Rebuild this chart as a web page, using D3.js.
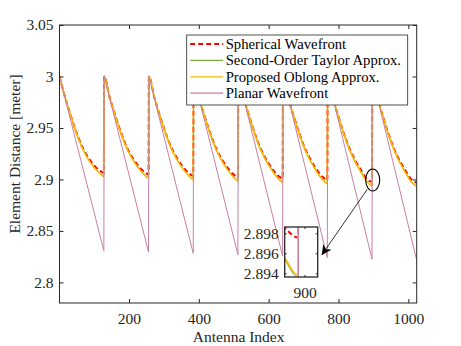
<!DOCTYPE html>
<html>
<head>
<meta charset="utf-8">
<script src="https://cdn.jsdelivr.net/npm/d3@7"></script>
<style>
  body { margin: 0; background: #fff; }
  svg { display: block; }
  svg text { font-family: "Liberation Serif", "Times New Roman", Times, "DejaVu Serif", serif !important; }
</style>
</head>
<body>
<div id="chart"></div>
<script>
// first antenna index of each 128-element sub-array, and where inside a sub-array we sampled
const toothStarts = [1, 129, 257, 385, 513, 641, 769, 897];
const sampleOffsets = [0, 16, 32, 48, 64, 80, 96, 112, 120, 127];

// element distance [m], one row per sub-array
const spherical = [
  [3.000, 2.9796, 2.9623, 2.9461, 2.9325, 2.9224, 2.9149, 2.9094, 2.9075, 2.9064],
  [3.000, 2.9793, 2.9618, 2.9456, 2.9318, 2.9216, 2.9139, 2.9081, 2.9061, 2.9048],
  [3.000, 2.9791, 2.9613, 2.9451, 2.9312, 2.9209, 2.9129, 2.9068, 2.9047, 2.9034],
  [3.000, 2.9789, 2.9609, 2.9446, 2.9306, 2.9201, 2.9119, 2.9055, 2.9034, 2.9021],
  [3.000, 2.9787, 2.9605, 2.9441, 2.9300, 2.9194, 2.9109, 2.9042, 2.9021, 2.9008],
  [3.000, 2.9785, 2.9601, 2.9436, 2.9294, 2.9186, 2.9099, 2.9028, 2.9007, 2.8994],
  [3.000, 2.9783, 2.9597, 2.9431, 2.9288, 2.9178, 2.9087, 2.9002, 2.8984, 2.8976],
  [3.000, 2.9781, 2.9593, 2.9426, 2.9282, 2.9170, 2.9079, 2.8999, 2.8980, 2.8968]
];
const taylor = [
  [3.000, 2.9795, 2.9620, 2.9455, 2.9315, 2.9210, 2.9129, 2.9068, 2.9043, 2.9026],
  [3.000, 2.9792, 2.9615, 2.9450, 2.9308, 2.9202, 2.9119, 2.9055, 2.9029, 2.9010],
  [3.000, 2.9790, 2.9610, 2.9445, 2.9302, 2.9195, 2.9109, 2.9042, 2.9015, 2.8996],
  [3.000, 2.9788, 2.9606, 2.9440, 2.9296, 2.9187, 2.9099, 2.9029, 2.9002, 2.8983],
  [3.000, 2.9786, 2.9602, 2.9435, 2.9290, 2.9180, 2.9089, 2.9016, 2.8989, 2.8970],
  [3.000, 2.9784, 2.9598, 2.9430, 2.9284, 2.9172, 2.9079, 2.9002, 2.8975, 2.8956],
  [3.000, 2.9782, 2.9594, 2.9425, 2.9278, 2.9164, 2.9067, 2.8978, 2.8951, 2.8936],
  [3.000, 2.9780, 2.9590, 2.9420, 2.9272, 2.9156, 2.9059, 2.8973, 2.8948, 2.8930]
];
const oblong = [
  [3.000, 2.9795, 2.9620, 2.9455, 2.9315, 2.9210, 2.9130, 2.9070, 2.9045, 2.9028],
  [3.000, 2.9792, 2.9615, 2.9450, 2.9308, 2.9202, 2.9120, 2.9057, 2.9031, 2.9012],
  [3.000, 2.9790, 2.9610, 2.9445, 2.9302, 2.9195, 2.9110, 2.9044, 2.9017, 2.8998],
  [3.000, 2.9788, 2.9606, 2.9440, 2.9296, 2.9187, 2.9100, 2.9031, 2.9004, 2.8985],
  [3.000, 2.9786, 2.9602, 2.9435, 2.9290, 2.9180, 2.9090, 2.9018, 2.8991, 2.8972],
  [3.000, 2.9784, 2.9598, 2.9430, 2.9284, 2.9172, 2.9080, 2.9004, 2.8977, 2.8958],
  [3.000, 2.9782, 2.9594, 2.9425, 2.9278, 2.9164, 2.9068, 2.8980, 2.8953, 2.8938],
  [3.000, 2.9780, 2.9590, 2.9420, 2.9272, 2.9156, 2.9060, 2.8975, 2.8950, 2.8932]
];
// planar wavefront is linear inside each sub-array
const planarFirst = [3.000, 3.000, 3.000, 3.000, 3.000, 3.000, 3.000, 3.000];
const planarLast = [2.8308, 2.8295, 2.8282, 2.8268, 2.8255, 2.8241, 2.8226, 2.8216];

const xTicks = [200, 400, 600, 800, 1000];
const yTicks = [2.8, 2.85, 2.9, 2.95, 3, 3.05];
const insetXTicks = [900];
const insetYTicks = [2.894, 2.896, 2.898];
const seriesNames = ["Spherical Wavefront", "Second-Order Taylor Approx.", "Proposed Oblong Approx.", "Planar Wavefront"];
const seriesColors = ["#ff0000", "#7fae3c", "#f9b800", "#c97fa3"];

const W = 461, H = 346;
const axisCol = "#262626";
const serif = '"Liberation Serif", "Times New Roman", Times, "DejaVu Serif", serif';

const svg = d3.select("#chart").append("svg")
  .attr("width", W).attr("height", H)
  .attr("font-family", serif);

// main axes box
const pL = 59.5, pT = 25, pR = 416.7, pB = 303;
const x = d3.scaleLinear().domain([1, 1024]).range([pL, pR]);
const y = d3.scaleLinear().domain([2.78, 3.05]).range([pB, pT]);

function toPoints(rows) {
  return rows.flatMap((row, k) => row.map((v, j) => ({ i: toothStarts[k] + sampleOffsets[j], v: v })));
}
const planarPts = toothStarts.flatMap((s, k) => [
  { i: s, v: planarFirst[k] },
  { i: s + 127, v: planarLast[k] }
]);
const data = [toPoints(spherical), toPoints(taylor), toPoints(oblong), planarPts];
const widths = [2, 1, 1.6, 1];

function drawSeries(g, xs, ys) {
  data.forEach((pts, s) => {
    const line = d3.line()
      .x(d => xs(d.i)).y(d => ys(d.v))
      .curve(s === 3 ? d3.curveLinear : d3.curveMonotoneX);
    g.append("path")
      .attr("d", line(pts))
      .attr("fill", "none")
      .attr("stroke", seriesColors[s])
      .attr("stroke-width", widths[s])
      .attr("stroke-dasharray", s === 0 ? "5,3" : null)
      .attr("stroke-linejoin", "round");
  });
}

svg.append("clipPath").attr("id", "mainClip")
  .append("rect").attr("x", pL).attr("y", pT)
  .attr("width", pR - pL).attr("height", pB - pT);

const plot = svg.append("g").attr("clip-path", "url(#mainClip)");
drawSeries(plot, x, y);

function styleAxis(g) {
  g.attr("font-family", serif).attr("font-size", 15.5);
  g.select(".domain").remove();
  g.selectAll("line").attr("stroke", axisCol);
  g.selectAll("text").attr("fill", axisCol);
}

svg.append("g").attr("transform", `translate(0,${pB})`)
  .call(d3.axisBottom(x).tickValues(xTicks).tickSize(-4).tickPadding(10).tickFormat(d3.format("d")))
  .call(styleAxis);
svg.append("g").attr("transform", `translate(0,${pT})`)
  .call(d3.axisTop(x).tickValues(xTicks).tickSize(-4).tickFormat(""))
  .call(styleAxis);
svg.append("g").attr("transform", `translate(${pL},0)`)
  .call(d3.axisLeft(y).tickValues(yTicks).tickSize(-4).tickPadding(6).tickFormat(d => String(d)))
  .call(styleAxis);
svg.append("g").attr("transform", `translate(${pR},0)`)
  .call(d3.axisRight(y).tickValues(yTicks).tickSize(-4).tickFormat(""))
  .call(styleAxis);

svg.append("rect")
  .attr("x", pL).attr("y", pT)
  .attr("width", pR - pL).attr("height", pB - pT)
  .attr("fill", "none").attr("stroke", axisCol).attr("stroke-width", 1);

// axis labels
svg.append("text")
  .attr("x", (pL + pR) / 2 + 0.5).attr("y", 342)
  .attr("text-anchor", "middle").attr("fill", axisCol)
  .attr("font-size", 15.5)
  .text("Antenna Index");
svg.append("text")
  .attr("transform", "translate(20,154) rotate(-90)")
  .attr("text-anchor", "middle").attr("fill", axisCol)
  .attr("font-size", 15.5)
  .text("Element Distance [meter]");

// legend
const lg = svg.append("g").attr("transform", "translate(186.7,35)");
lg.append("rect").attr("width", 221).attr("height", 70)
  .attr("fill", "#fff").attr("stroke", axisCol).attr("stroke-width", 0.8);
seriesNames.forEach((name, s) => {
  const ry = 9 + s * 16.4;
  lg.append("line")
    .attr("x1", 3.5).attr("x2", 36.5).attr("y1", ry).attr("y2", ry)
    .attr("stroke", seriesColors[s])
    .attr("stroke-width", s === 0 ? 2 : 1.2)
    .attr("stroke-dasharray", s === 0 ? "5,3" : null);
  lg.append("text")
    .attr("x", 39).attr("y", ry + 5)
    .attr("fill", "#000")
    .attr("font-size", 14.7)
    .text(name);
});

// zoomed inset
const iL = 284.7, iR = 317.7, iT = 227, iB = 277;
const xi = d3.scaleLinear().domain([888, 908]).range([iL, iR]);
const yi = d3.scaleLinear().domain([2.89363, 2.89863]).range([iB, iT]);

svg.append("rect").attr("x", iL).attr("y", iT)
  .attr("width", iR - iL).attr("height", iB - iT).attr("fill", "#fff");
svg.append("clipPath").attr("id", "insetClip")
  .append("rect").attr("x", iL).attr("y", iT)
  .attr("width", iR - iL).attr("height", iB - iT);
const inset = svg.append("g").attr("clip-path", "url(#insetClip)");
drawSeries(inset, xi, yi);

svg.append("g").attr("transform", `translate(0,${iB})`)
  .call(d3.axisBottom(xi).tickValues(insetXTicks).tickSize(-2).tickPadding(10).tickFormat(d3.format("d")))
  .call(styleAxis);
svg.append("g").attr("transform", `translate(0,${iT})`)
  .call(d3.axisTop(xi).tickValues(insetXTicks).tickSize(-2).tickFormat(""))
  .call(styleAxis);
svg.append("g").attr("transform", `translate(${iL},0)`)
  .call(d3.axisLeft(yi).tickValues(insetYTicks).tickSize(-2).tickPadding(6).tickFormat(d3.format(".3f")))
  .call(styleAxis);
svg.append("g").attr("transform", `translate(${iR},0)`)
  .call(d3.axisRight(yi).tickValues(insetYTicks).tickSize(-2).tickFormat(""))
  .call(styleAxis);
svg.append("rect").attr("x", iL).attr("y", iT)
  .attr("width", iR - iL).attr("height", iB - iT)
  .attr("fill", "none").attr("stroke", axisCol).attr("stroke-width", 1.3);

// annotation: ellipse around the zoomed spot and arrow to the inset
const ex = x(898), ey = y(2.8995);
svg.append("ellipse")
  .attr("cx", ex).attr("cy", ey).attr("rx", 7).attr("ry", 11)
  .attr("fill", "none").attr("stroke", "#000").attr("stroke-width", 1.1);

svg.append("defs").append("marker")
  .attr("id", "head").attr("viewBox", "0 0 10 10")
  .attr("refX", 10).attr("refY", 5)
  .attr("markerWidth", 10).attr("markerHeight", 10)
  .attr("markerUnits", "userSpaceOnUse")
  .attr("orient", "auto")
  .append("path").attr("d", "M0,0L10,5L0,10L3,5Z").attr("fill", "#000");

svg.append("line")
  .attr("x1", ex - 5.5).attr("y1", ey + 9.5)
  .attr("x2", iR + 4).attr("y2", (iT + iB) / 2 + 3)
  .attr("stroke", "#000").attr("stroke-width", 0.8)
  .attr("marker-end", "url(#head)");
</script>
</body>
</html>
